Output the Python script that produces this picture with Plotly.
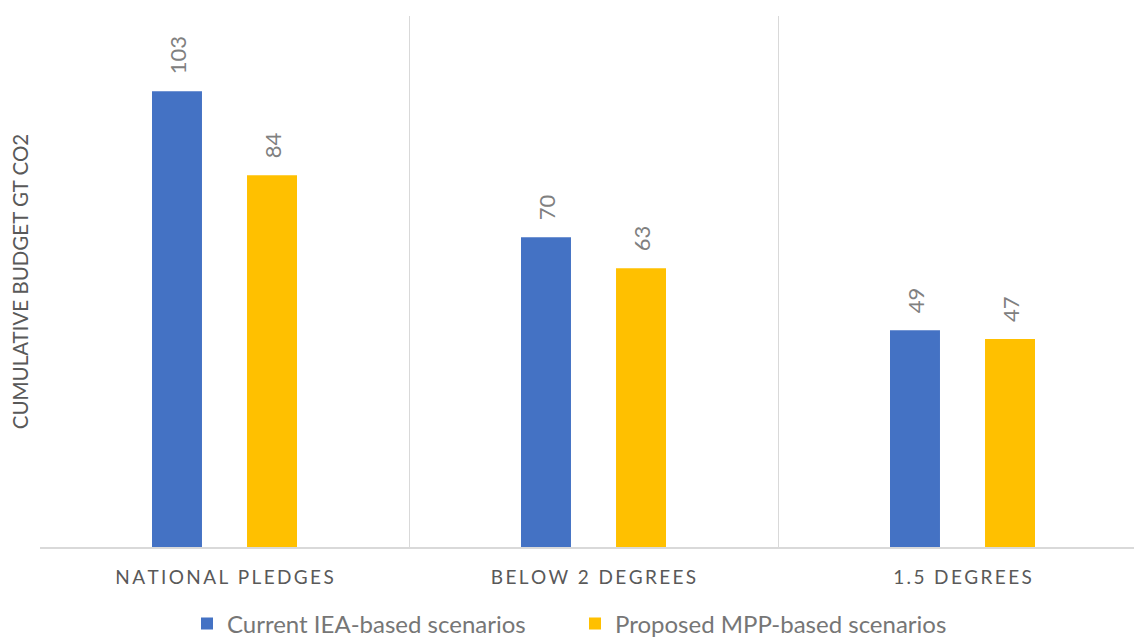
import plotly.graph_objects as go

categories = ["NATIONAL PLEDGES", "BELOW 2 DEGREES", "1.5 DEGREES"]
series_names = ["Current IEA-based scenarios", "Proposed MPP-based scenarios"]
iea_values = [103, 70, 49]
mpp_values = [84, 63, 47]
colors = ["#4472C4", "#FFC000"]
y_title = "CUMULATIVE BUDGET GT CO2"


def spaced(s):
    # emulate the wide letter spacing of the original category labels
    return "\u2009".join("\u00a0" if c == " " else c for c in s)


tick_text = [spaced(c) for c in categories]

fig = go.Figure()
for name, vals, col in zip(series_names, [iea_values, mpp_values], colors):
    fig.add_trace(go.Bar(
        x=categories, y=vals, name=name,
        marker=dict(color=col, line=dict(width=0)),
    ))

# rotated data labels above each bar
annotations = []
for vals, shift in [(iea_values, -47.5), (mpp_values, 47.5)]:
    for c, v in zip(categories, vals):
        annotations.append(dict(
            x=c, y=v, xref="x", yref="y", text=str(v), showarrow=False,
            textangle=-90, xanchor="center", yanchor="bottom",
            xshift=shift, yshift=15,
            font=dict(family="Lato", size=22, color="#808080"),
        ))

plot_w = 1134 - 40
fig.update_layout(
    width=1134, height=639,
    margin=dict(l=40, r=0, t=16, b=92, pad=0, autoexpand=False),
    paper_bgcolor="white", plot_bgcolor="white",
    barmode="group", bargap=0.485, bargroupgap=0.474,
    showlegend=True,
    legend=dict(
        orientation="h", x=(187 - 40) / plot_w, xanchor="left",
        y=(547 - 624) / 531, yanchor="middle",
        font=dict(family="Lato", size=24, color="#767676"),
        entrywidth=343, entrywidthmode="pixels",
        bgcolor="rgba(0,0,0,0)",
    ),
    annotations=annotations,
)
fig.update_xaxes(
    type="category", range=[-0.5, -0.5 + plot_w / 369.0],
    tickmode="array", tickvals=categories, ticktext=tick_text,
    tickson="boundaries", ticks="", showgrid=True,
    gridcolor="#d9d9d9", gridwidth=1.3,
    showline=True, linecolor="#d9d9d9", linewidth=1.5,
    tickfont=dict(family="Lato", size=19, color="#595959"),
    ticklabelstandoff=12,
)
fig.update_yaxes(
    range=[0, 120], showticklabels=False, showgrid=False, zeroline=False,
    showline=False, ticks="",
    title=dict(text=y_title, font=dict(family="Lato", size=20.5, color="#595959"),
               standoff=4),
)
fig.write_html("out.html")
